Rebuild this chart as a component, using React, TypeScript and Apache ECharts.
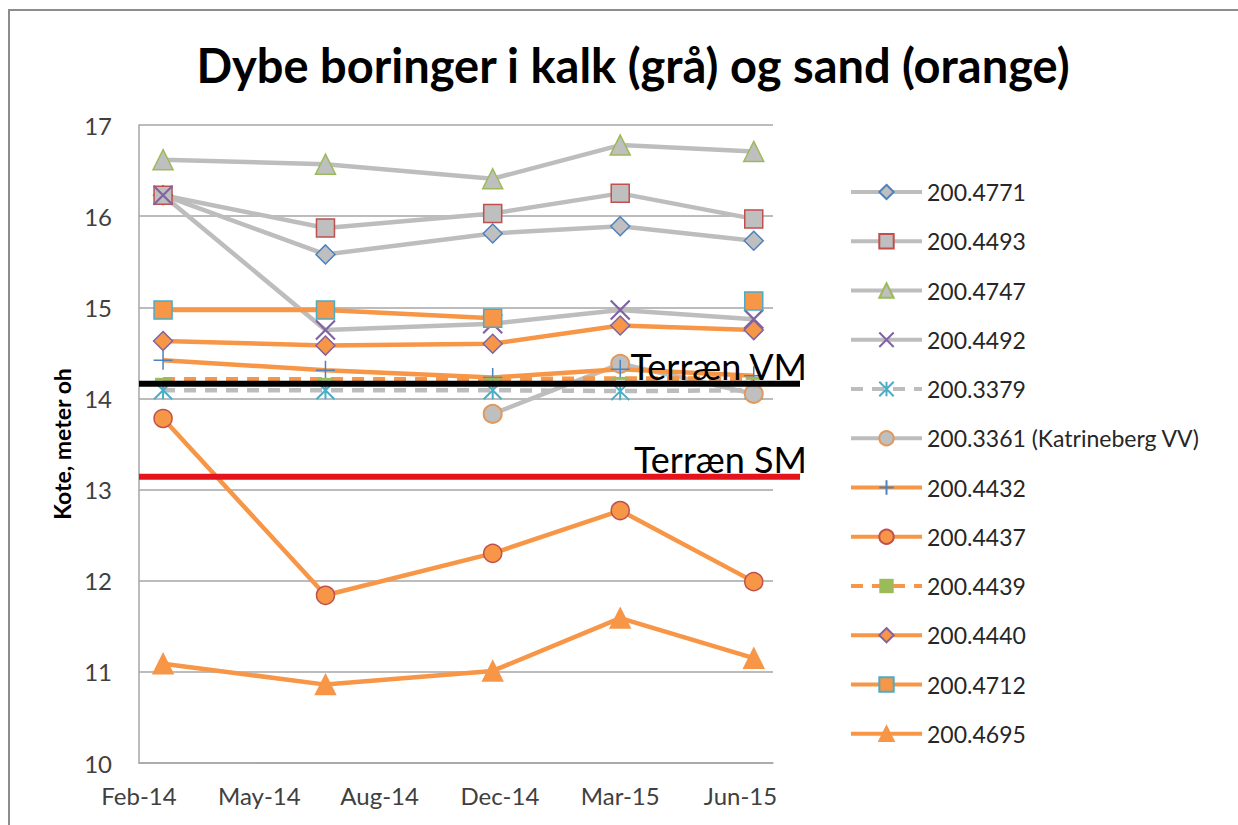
import React, { useEffect, useRef } from "react";
import * as echarts from "echarts";

// ---- data ----
const tickLabels = ["Feb-14", "May-14", "Aug-14", "Dec-14", "Mar-15", "Jun-15"];
const tickDays = [0, 100, 200, 300, 400, 500];
const sampleDays = [20, 155, 294, 400, 511];

const s4771 = [16.23, 15.58, 15.81, 15.89, 15.73];
const s4493 = [16.23, 15.87, 16.03, 16.25, 15.97];
const s4747 = [16.62, 16.57, 16.41, 16.78, 16.71];
const s4492 = [16.23, 14.75, 14.82, 14.97, 14.87];
const s3379 = [14.09, 14.09, 14.09, 14.08, 14.09];
const s3361 = [null, null, 13.83, 14.38, 14.05];
const s4432 = [14.42, 14.31, 14.23, 14.32, 14.25];
const s4437 = [13.78, 11.84, 12.3, 12.77, 11.99];
const s4439 = [14.21, 14.21, 14.21, 14.22, 14.22];
const s4440 = [14.63, 14.58, 14.6, 14.8, 14.75];
const s4712 = [14.97, 14.97, 14.88, null, 15.07];
const s4695 = [11.09, 10.86, 11.01, 11.59, 11.15];

const terrainVM = 14.16;
const terrainSM = 13.14;

const GRAY = "#BDBDBD";
const ORANGE = "#F79646";
const BLUE = "#4F81BD";
const RED = "#C0504D";
const GREEN = "#9BBB59";
const PURPLE = "#8064A2";
const AQUA = "#4BACC6";
const MGRAY = "#BFBFBF";
const FONT = "Lato";

const X_PATH = "path://M0,0L10,10M10,0L0,10";
const AST_PATH = "path://M0,0L10,10M10,0L0,10M5,0L5,10";
const PLUS_PATH = "path://M5,0L5,10M0,5L10,5";
const DASH_PATH = "path://M0,0L10,0L10,2L0,2Z";

function pts(vals: (number | null)[]) {
  return sampleDays.map((d, i) => [d, vals[i] === null ? null : vals[i]]);
}

function mk(name: string, vals: (number | null)[], o: any) {
  return {
    name,
    type: "line",
    xAxisIndex: 0,
    yAxisIndex: 0,
    data: pts(vals),
    connectNulls: false,
    symbol: o.symbol,
    symbolSize: o.size,
    showSymbol: true,
    lineStyle: { color: o.line, width: 4.5, type: o.dash ? [12, 9] : "solid" },
    itemStyle: {
      color: o.fill,
      borderColor: o.border,
      borderWidth: o.bw ?? 1.5,
    },
  };
}

export default function App() {
  const ref = useRef<HTMLDivElement>(null);
  useEffect(() => {
    if (!ref.current) return;
    const chart = echarts.init(ref.current, null, { renderer: "svg" });
    const names = [
      "200.4771",
      "200.4493",
      "200.4747",
      "200.4492",
      "200.3379",
      "200.3361 (Katrineberg VV)",
      "200.4432",
      "200.4437",
      "200.4439",
      "200.4440",
      "200.4712",
      "200.4695",
    ];
    const series: any[] = [
      mk(names[0], s4771, { symbol: "diamond", size: 19, line: GRAY, fill: MGRAY, border: BLUE }),
      mk(names[1], s4493, { symbol: "rect", size: 18, line: GRAY, fill: MGRAY, border: RED }),
      mk(names[2], s4747, { symbol: "triangle", size: 20, line: GRAY, fill: MGRAY, border: GREEN }),
      mk(names[3], s4492, { symbol: X_PATH, size: 19, line: GRAY, fill: MGRAY, border: PURPLE, bw: 2.2 }),
      mk(names[4], s3379, { symbol: AST_PATH, size: 18, line: GRAY, fill: MGRAY, border: AQUA, dash: true, bw: 2 }),
      mk(names[5], s3361, { symbol: "circle", size: 18, line: GRAY, fill: MGRAY, border: "#E09A5E", bw: 2 }),
      mk(names[6], s4432, { symbol: PLUS_PATH, size: 19, line: ORANGE, fill: BLUE, border: BLUE, bw: 1.5 }),
      mk(names[7], s4437, { symbol: "circle", size: 18, line: ORANGE, fill: ORANGE, border: RED }),
      mk(names[8], s4439, { symbol: DASH_PATH, size: [16, 3], line: ORANGE, fill: GREEN, border: GREEN, dash: true, bw: 0 }),
      mk(names[9], s4440, { symbol: "diamond", size: 19, line: ORANGE, fill: ORANGE, border: PURPLE }),
      mk(names[10], s4712, { symbol: "rect", size: 18, line: ORANGE, fill: ORANGE, border: AQUA }),
      mk(names[11], s4695, { symbol: "triangle", size: 20, line: ORANGE, fill: ORANGE, border: ORANGE }),
    ];
    const refLine = (name: string, v: number, color: string) => ({
      name,
      type: "line",
      xAxisIndex: 1,
      yAxisIndex: 1,
      z: 10,
      symbol: "circle",
      symbolSize: 0,
      lineStyle: { color, width: 6 },
      data: [
        [0, v],
        {
          value: [1, v],
          label: {
            show: true,
            position: "top",
            align: "right",
            offset: [7, 5],
            formatter: name,
            fontFamily: FONT,
            fontSize: 36,
            color: "#000",
          },
        },
      ],
    });
    series.push(refLine("Terræn VM", terrainVM, "#000000"));
    series.push(refLine("Terræn SM", terrainSM, "#E3141B"));

    chart.setOption({
      animation: false,
      backgroundColor: "#fff",
      title: {
        text: "Dybe boringer i kalk (grå) og sand (orange)",
        left: 628,
        textAlign: "center",
        top: 36,
        textStyle: { fontFamily: FONT, fontSize: 47, fontWeight: "bold", color: "#000" },
      },
      graphic: [
        {
          type: "rect",
          shape: { x: 9, y: 10, width: 1400, height: 1000 },
          style: { fill: "none", stroke: "#8C8C8C", lineWidth: 2 },
          silent: true,
        },
      ],
      legend: {
        data: names,
        orient: "vertical",
        left: 849,
        top: 180,
        padding: 0,
        itemWidth: 71,
        itemHeight: 18,
        itemGap: 25.25,
        lineStyle: { width: 4 },
        textStyle: { fontFamily: FONT, fontSize: 23, color: "#262626", lineHeight: 24 },
      },
      grid: [
        { left: 139, right: 1238 - 773, top: 125, bottom: 825 - 763 },
        { left: 139, right: 1238 - 800, top: 125, bottom: 825 - 763 },
      ],
      xAxis: [
        {
          type: "value",
          gridIndex: 0,
          min: 0,
          max: 527,
          interval: 100,
          splitLine: { show: false },
          axisTick: { show: false },
          axisLine: { show: true, lineStyle: { color: "#A6A6A6", width: 1.5 } },
          axisLabel: {
            margin: 20,
            fontFamily: FONT,
            fontSize: 24,
            color: "#404040",
            showMaxLabel: false,
            formatter: (v: number) => {
              const i = tickDays.indexOf(v);
              return i >= 0 ? tickLabels[i] : "";
            },
          },
        },
        { type: "value", gridIndex: 1, min: 0, max: 1, show: false },
      ],
      yAxis: [
        {
          type: "value",
          gridIndex: 0,
          min: 10,
          max: 17,
          interval: 1,
          name: "Kote, meter oh",
          nameLocation: "middle",
          nameGap: 65,
          nameTextStyle: { fontFamily: FONT, fontSize: 23, fontWeight: "bold", color: "#000" },
          axisLine: { show: true, lineStyle: { color: "#A6A6A6", width: 1.5 } },
          axisTick: { show: false },
          splitLine: { show: true, lineStyle: { color: "#A6A6A6", width: 1.5 } },
          axisLabel: { margin: 27, fontFamily: FONT, fontSize: 24, color: "#404040" },
        },
        { type: "value", gridIndex: 1, min: 10, max: 17, show: false },
      ],
      series,
    });
    return () => chart.dispose();
  }, []);
  return (
    <div
      ref={ref}
      style={{ position: "fixed", left: 0, top: 0, width: 1238, height: 825 }}
    />
  );
}
